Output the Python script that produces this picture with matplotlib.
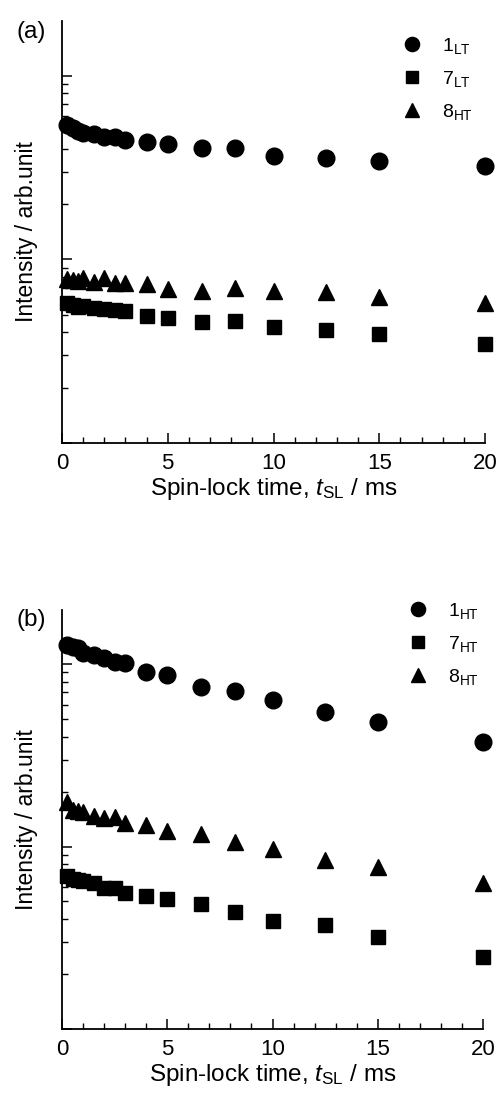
import matplotlib
matplotlib.use("Agg")
import matplotlib.pyplot as plt
from matplotlib.ticker import LogLocator, NullFormatter, MultipleLocator

plt.rcParams['font.family'] = ['Liberation Sans', 'DejaVu Sans']
plt.rcParams['mathtext.fontset'] = 'custom'
plt.rcParams['mathtext.rm'] = 'Liberation Sans'
plt.rcParams['mathtext.it'] = 'Liberation Sans:italic'
plt.rcParams['mathtext.bf'] = 'Liberation Sans:bold'

# Spin-lock times (ms)
t_sl = [0.25, 0.5, 0.75, 1.0, 1.5, 2.0, 2.5, 3.0, 4.0, 5.0, 6.6, 8.2, 10.0, 12.5, 15.0, 20.0]

# Panel (a)
a_1LT = [54.1, 52.1, 50.2, 48.9, 48.3, 46.5, 46.5, 44.8, 43.7, 42.6, 40.5, 40.5, 36.6, 35.7, 34.4, 32.3]
a_7LT = [5.79, 5.65, 5.51, 5.58, 5.44, 5.37, 5.31, 5.24, 4.92, 4.80, 4.56, 4.62, 4.29, 4.13, 3.93, 3.46]
a_8HT = [7.83, 7.73, 7.64, 7.93, 7.54, 7.93, 7.45, 7.45, 7.35, 6.90, 6.73, 7.00, 6.73, 6.65, 6.25, 5.79]

# Panel (b)
b_1HT = [127, 124, 122, 115, 112, 108, 102.5, 101, 90.4, 87.1, 74.8, 71.1, 63.5, 54.6, 48.1, 37.4]
b_7HT = [6.89, 6.64, 6.55, 6.47, 6.31, 5.93, 5.93, 5.56, 5.35, 5.16, 4.84, 4.38, 3.91, 3.71, 3.19, 2.48]
b_8HT = [17.5, 15.8, 15.7, 15.45, 14.7, 14.3, 14.5, 13.4, 13.1, 12.2, 11.7, 10.6, 9.7, 8.43, 7.72, 6.31]

labels_a = [r'$1_{\mathrm{LT}}$', r'$7_{\mathrm{LT}}$', r'$8_{\mathrm{HT}}$']
labels_b = [r'$1_{\mathrm{HT}}$', r'$7_{\mathrm{HT}}$', r'$8_{\mathrm{HT}}$']
panel_tags = ['(a)', '(b)']

W, H = 499, 1099
fig = plt.figure(figsize=(W / 100, H / 100), dpi=100)

def px_axes(l, r, t, b):
    return fig.add_axes([l / W, 1 - b / H, (r - l) / W, (b - t) / H])

ax_a = px_axes(62, 485, 21, 443)
ax_b = px_axes(62, 483, 610, 1029)

def style(ax, series, labels, legend_anchor):
    ms = {'o': 12, 's': 10.5, '^': 11.5}
    for (y, mk), lab in zip(series, labels):
        ax.plot(t_sl, y, linestyle='none', marker=mk, color='black',
                markersize=ms[mk], clip_on=False, label=lab)
    ax.set_yscale('log')
    ax.set_ylim(1, 198)
    ax.set_xlim(0, 20)
    ax.xaxis.set_major_locator(MultipleLocator(5))
    ax.xaxis.set_minor_locator(MultipleLocator(1))
    ax.yaxis.set_major_locator(LogLocator(base=10, numticks=10))
    ax.yaxis.set_minor_locator(LogLocator(base=10, subs=range(2, 10), numticks=20))
    ax.yaxis.set_major_formatter(NullFormatter())
    ax.yaxis.set_minor_formatter(NullFormatter())
    for side in ('top', 'right'):
        ax.spines[side].set_visible(False)
    for side in ('left', 'bottom'):
        ax.spines[side].set_linewidth(1.3)
    ax.tick_params(which='major', direction='in', length=7, width=1.1,
                   labelsize=16, pad=7)
    ax.tick_params(which='minor', direction='in', length=4, width=1.0)
    ax.set_xlabel(r'Spin-lock time, $t_{\mathrm{SL}}$ / ms', fontsize=17.5, labelpad=2)
    ax.set_ylabel('Intensity / arb.unit', fontsize=16.5, labelpad=10)
    leg = ax.legend(loc='upper left', bbox_to_anchor=legend_anchor, frameon=False,
                    fontsize=14, handlelength=1.0, handletextpad=1.0,
                    labelspacing=0.68, borderpad=0, markerscale=0.85)
    return leg

style(ax_a, [(a_1LT, 'o'), (a_7LT, 's'), (a_8HT, '^')], labels_a,
      ((393 - 62) / 423, 1 - (26 - 21) / 422))
style(ax_b, [(b_1HT, 'o'), (b_7HT, 's'), (b_8HT, '^')], labels_b,
      ((399 - 62) / 421, 1 - (591 - 610) / 419))

fig.text(31 / W, 1 - 32 / H, panel_tags[0], fontsize=17.5, ha='center', va='center')
fig.text(31 / W, 1 - 620 / H, panel_tags[1], fontsize=17.5, ha='center', va='center')

fig.savefig('out.png', dpi=100)
